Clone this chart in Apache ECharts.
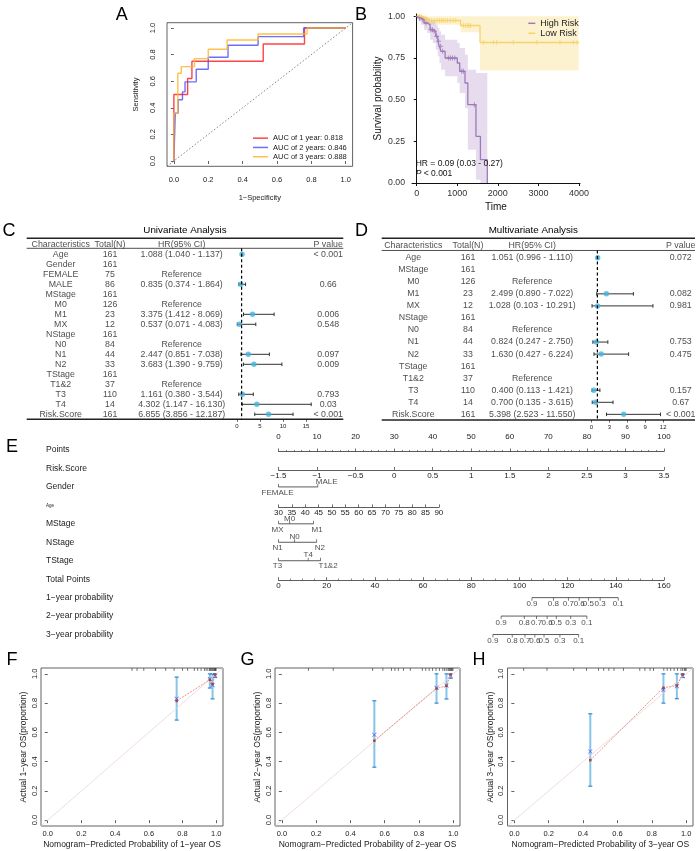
<!DOCTYPE html>
<html>
<head>
<meta charset="utf-8">
<script src="https://cdn.jsdelivr.net/npm/echarts@6.0.0/dist/echarts.min.js"></script>
<style>
html,body{margin:0;padding:0;background:#fff;}
#chart{width:700px;height:851px;}
</style>
</head>
<body>
<div id="chart"></div>
<script>
// ======================= DATA =======================
// Panel A – ROC curves (step points: false-positive rate, sensitivity)
const rocNames = ['AUC of 1 year: 0.818', 'AUC of 2 years: 0.846', 'AUC of 3 years: 0.888'];
const roc1FPR = [0, 0.08, 0.105, 0.52, 0.76, 1];
const roc1TPR = [0, 0.50, 0.62, 0.75, 0.88, 1];
const roc2FPR = [0, 0.008, 0.025, 0.05, 0.065, 0.13, 0.20, 0.315, 0.49, 0.755, 1];
const roc2TPR = [0, 0, 0.36, 0.46, 0.52, 0.595, 0.69, 0.78, 0.87, 0.935, 1];
const roc3FPR = [0, 0.023, 0.043, 0.12, 0.20, 0.31, 0.49, 0.775, 1];
const roc3TPR = [0, 0.36, 0.66, 0.71, 0.77, 0.84, 0.91, 0.955, 1];
const rocTicks = [0, 0.2, 0.4, 0.6, 0.8, 1];

// Panel B – Kaplan–Meier
const kmNames = ['High Risk', 'Low Risk'];
const highT     = [0, 40, 100, 180, 260, 330, 400, 470, 520, 560, 600, 700, 1000, 1060, 1190, 1260, 1460, 1570, 1740];
const highS     = [1, 0.99, 0.98, 0.96, 0.95, 0.92, 0.91, 0.88, 0.85, 0.82, 0.79, 0.75, 0.72, 0.67, 0.60, 0.47, 0.28, 0.14, 0];
const highUpper = [1, 1, 1, 0.995, 0.99, 0.975, 0.97, 0.95, 0.93, 0.91, 0.89, 0.86, 0.84, 0.81, 0.77, 0.68, 0.66, 0.66, 0];
const highLower = [1, 0.97, 0.95, 0.92, 0.90, 0.86, 0.84, 0.80, 0.76, 0.72, 0.68, 0.64, 0.60, 0.54, 0.45, 0.20, 0.02, 0, 0];
const highCensorT = [70, 150, 230, 350, 390, 430, 490, 540, 590, 640, 780, 830, 880, 940, 1110, 1150, 1420];
const lowT     = [0, 120, 250, 1080, 1560, 3990];
const lowS     = [1, 0.99, 0.975, 0.945, 0.843, 0.843];
const lowUpper = [1, 1, 1, 1, 1, 1];
const lowLower = [1, 0.97, 0.95, 0.905, 0.675, 0.675];
const lowCensorT = [30, 70, 110, 160, 210, 260, 310, 370, 430, 500, 560, 610, 650, 700, 760, 830, 900, 960,
                    1150, 1200, 1260, 1290, 1330, 1650, 1890, 1970, 2380, 2960, 3530, 3860, 3950];
const kmTimeTicks = [0, 1000, 2000, 3000, 4000];
const kmSurvTicks = [0, 0.25, 0.5, 0.75, 1];
const kmHR = 'HR = 0.09 (0.03 - 0.27)';
const kmP = '< 0.001';

// Panel C – univariate Cox
const tableHeader = ['Characteristics', 'Total(N)', 'HR(95% CI)', 'P value'];
const uniChar = ['Age','Gender','FEMALE','MALE','MStage','M0','M1','MX','NStage','N0','N1','N2','TStage','T1&2','T3','T4','Risk.Score'];
const uniN    = ['161','161','75','86','161','126','23','12','161','84','44','33','161','37','110','14','161'];
const uniHR   = [1.088,null,null,0.835,null,null,3.375,0.537,null,null,2.447,3.683,null,null,1.161,4.302,6.855];
const uniLo   = [1.040,null,null,0.374,null,null,1.412,0.071,null,null,0.851,1.390,null,null,0.380,1.147,3.856];
const uniHi   = [1.137,null,null,1.864,null,null,8.069,4.083,null,null,7.038,9.759,null,null,3.544,16.130,12.187];
const uniRef  = [0,0,1,0,0,1,0,0,0,1,0,0,0,1,0,0,0];
const uniP    = ['< 0.001','','','0.66','','','0.006','0.548','','','0.097','0.009','','','0.793','0.03','< 0.001'];
const uniTicks = [0, 5, 10, 15];

// Panel D – multivariate Cox
const mulChar = ['Age','MStage','M0','M1','MX','NStage','N0','N1','N2','TStage','T1&2','T3','T4','Risk.Score'];
const mulN    = ['161','161','126','23','12','161','84','44','33','161','37','110','14','161'];
const mulHR   = [1.051,null,null,2.499,1.028,null,null,0.824,1.630,null,null,0.400,0.700,5.398];
const mulLo   = [0.996,null,null,0.890,0.103,null,null,0.247,0.427,null,null,0.113,0.135,2.523];
const mulHi   = [1.110,null,null,7.022,10.291,null,null,2.750,6.224,null,null,1.421,3.615,11.550];
const mulRef  = [0,0,1,0,0,0,1,0,0,0,1,0,0,0];
const mulP    = ['0.072','','','0.082','0.981','','','0.753','0.475','','','0.157','0.67','< 0.001'];
const mulTicks = [0, 3, 6, 9, 12];

// Panel E – nomogram
const nomoRows = ['Points','Risk.Score','Gender','Age','MStage','NStage','TStage','Total Points',
                  '1\u2212year probability','2\u2212year probability','3\u2212year probability'];
const pointsRange = [0, 100];
const riskScoreRange = [-1.5, 3.5];
const ageRange = [30, 90];
const ageMaxPoints = 41.6;
const totalRange = [0, 160];
const genderLevels = ['FEMALE','MALE'];
const genderPoints = [0, 10.2];
const mStageLevels = ['MX','M0','M1'];
const mStagePoints = [0, 2.9, 9.1];
const nStageLevels = ['N1','N0','N2'];
const nStagePoints = [0, 4.2, 9.9];
const tStageLevels = ['T3','T4','T1&2'];
const tStagePoints = [0, 7.7, 10.9];
const probLabels = ['0.9','0.8','0.7','0.6','0.5','0.3','0.1'];
const prob1yTotal = [105.2, 114.1, 120.3, 124.8, 128.6, 133.5, 141.0];
const prob2yTotal = [92.4, 102.0, 107.1, 111.5, 115.3, 121.3, 128.0];
const prob3yTotal = [89.0, 97.0, 102.3, 106.4, 110.2, 116.8, 124.6];

// Panels F/G/H – calibration
const calTicks = [0, 0.2, 0.4, 0.6, 0.8, 1];
const cal1Pred = [0.765, 0.962, 0.978, 0.993];
const cal1Obs  = [0.830, 0.965, 0.922, 0.988];
const cal1App  = [0.815, 0.960, 0.930, 0.995];
const cal1Lo   = [0.684, 0.903, 0.829, 0.975];
const cal1Hi   = [0.978, 1.000, 0.998, 1.000];
const cal1Rug  = [0.50, 0.53, 0.57, 0.64, 0.70, 0.75, 0.80, 0.83, 0.87, 0.89, 0.91, 0.93, 0.94, 0.95, 0.96, 0.965, 0.97, 0.975, 0.98, 0.985, 0.99, 0.993, 0.996, 0.999];
const cal2Pred = [0.540, 0.903, 0.961, 0.985];
const cal2Obs  = [0.583, 0.905, 0.921, 0.985];
const cal2App  = [0.543, 0.900, 0.918, 0.995];
const cal2Lo   = [0.362, 0.800, 0.828, 0.970];
const cal2Hi   = [0.816, 1.000, 1.000, 1.000];
const cal2Rug  = [0.155, 0.30, 0.53, 0.59, 0.64, 0.66, 0.68, 0.71, 0.75, 0.82, 0.84, 0.86, 0.88, 0.90, 0.92, 0.94, 0.95, 0.96, 0.97, 0.975, 0.98, 0.985, 0.99, 0.995, 0.999];
const cal3Pred = [0.442, 0.868, 0.946, 0.980];
const cal3Obs  = [0.470, 0.890, 0.915, 0.985];
const cal3App  = [0.410, 0.905, 0.920, 0.995];
const cal3Lo   = [0.232, 0.800, 0.830, 0.975];
const cal3Hi   = [0.727, 1.000, 1.000, 1.000];
const cal3Rug  = [0.054, 0.19, 0.345, 0.42, 0.49, 0.52, 0.55, 0.58, 0.635, 0.73, 0.76, 0.79, 0.81, 0.87, 0.89, 0.91, 0.93, 0.95, 0.97, 0.98, 0.99, 0.995, 1.0];

// ======================= BUILD =======================
const FONT = '"Liberation Sans", Arial, Helvetica, sans-serif';
const INK = '#1a1a1a';
const grid = [], xAxis = [], yAxis = [], series = [], title = [], legend = [];
const G = o => (grid.push(Object.assign({outerBoundsMode: 'none', containLabel: false}, o)), grid.length - 1);
const X = o => (xAxis.push(Object.assign({nameMoveOverlap: false}, o)), xAxis.length - 1);
const Y = o => (yAxis.push(Object.assign({nameMoveOverlap: false}, o)), yAxis.length - 1);
const NOSYM = {symbolSize: 1, itemStyle: {color: 'rgba(0,0,0,0)'}};

function text(t, x, y, size, extra) {
  title.push(Object.assign({
    text: t, left: x, top: y, textAlign: 'center', textVerticalAlign: 'middle', padding: 0,
    textStyle: {fontSize: size, fontWeight: 'normal', color: '#000', fontFamily: FONT}
  }, extra || {}));
}
['A','B','C','D','E','F','G','H'].forEach((l, i) => {
  const pos = [[121.7,14.7],[361,15],[9,231],[361.5,231],[12,447],[12,660],[247.5,660],[479,660]][i];
  text(l, pos[0], pos[1], 18);
});
text('Univariate Analysis', 185, 230, 9.8);
text('Multivariate Analysis', 533.3, 230, 9.8);

// ---------- Panel A ----------
const gA = G({left: 167, top: 22.7, width: 185.6, height: 143.6, show: true, borderColor: '#3a3a3a', borderWidth: 0.8});
function boxAxis(gi, isY, ticks, fs, margin, name, nameGap, nameSize) {
  return {
    gridIndex: gi, type: 'value', min: -0.04, max: 1.04,
    axisLine: {show: false}, splitLine: {show: false},
    axisTick: {show: true, customValues: ticks, length: 3, lineStyle: {color: '#3a3a3a', width: 0.8}},
    axisLabel: {show: true, customValues: ticks, formatter: v => v.toFixed(1), fontSize: fs, margin: margin,
                rotate: isY ? 90 : 0, color: INK, fontFamily: FONT},
    name: name, nameLocation: 'middle', nameGap: nameGap,
    nameTextStyle: {fontSize: nameSize, color: INK, fontFamily: FONT}
  };
}
const xA = X(boxAxis(gA, false, rocTicks, 7.5, 9.5, '1\u2212Specificity', 27.5, 7.5));
const yA = Y(boxAxis(gA, true, rocTicks, 7.5, 10, 'Sensitivity', 27, 7.5));
series.push({type: 'line', xAxisIndex: xA, yAxisIndex: yA, silent: true, symbol: 'none',
  data: [[-0.04, -0.04], [1.04, 1.04]], lineStyle: {color: '#666', width: 0.8, type: [1.5, 2]}});
const rocColors = ['rgba(255,35,35,0.85)', 'rgba(70,70,255,0.78)', 'rgba(255,182,45,0.85)'];
[[roc1FPR, roc1TPR], [roc2FPR, roc2TPR], [roc3FPR, roc3TPR]].forEach(([f, t], k) => {
  series.push({type: 'line', name: rocNames[k], xAxisIndex: xA, yAxisIndex: yA, step: 'start', symbol: 'none',
    data: f.map((v, i) => [v, t[i]]), lineStyle: {color: rocColors[k], width: 1.4}, itemStyle: {color: rocColors[k]}});
});
legend.push({data: rocNames, orient: 'vertical', left: 253, top: 133.5, itemWidth: 15, itemHeight: 1.5, itemGap: 0,
  icon: 'rect', padding: 0, selectedMode: false,
  textStyle: {fontSize: 7.5, lineHeight: 9.3, color: INK, fontFamily: FONT}});

// ---------- Panel B ----------
const gB = G({left: 412, top: 14, width: 168, height: 169});
const xB = X({gridIndex: gB, type: 'value', min: -116, max: 4024,
  axisLine: {show: true, lineStyle: {color: '#111', width: 1}}, splitLine: {show: false},
  axisTick: {show: true, customValues: kmTimeTicks, length: 3, lineStyle: {color: '#111'}},
  axisLabel: {show: true, customValues: kmTimeTicks, formatter: v => String(v), fontSize: 9, margin: 6.5, color: '#333', fontFamily: FONT},
  name: 'Time', nameLocation: 'middle', nameGap: 19, nameTextStyle: {fontSize: 10, color: '#111', fontFamily: FONT}});
const yB = Y({gridIndex: gB, type: 'value', min: 0, max: 1.014,
  axisLine: {show: true, lineStyle: {color: '#111', width: 1}}, splitLine: {show: false},
  axisTick: {show: true, customValues: kmSurvTicks, length: 3, lineStyle: {color: '#111'}},
  axisLabel: {show: true, customValues: kmSurvTicks, formatter: v => v.toFixed(2), fontSize: 8.7, margin: 7, color: '#333', fontFamily: FONT},
  name: 'Survival probability', nameLocation: 'middle', nameGap: 28.5, nameTextStyle: {fontSize: 10, color: '#111', fontFamily: FONT}});
function kmBand(t, lo, up, color) {
  series.push({type: 'custom', xAxisIndex: xB, yAxisIndex: yB, silent: true, data: [[t[0], lo[0]]], encode: {x: 0, y: 1},
    renderItem: (p, api) => {
      const pts = [];
      for (let i = 0; i < t.length - 1; i++) { pts.push(api.coord([t[i], up[i]])); pts.push(api.coord([t[i + 1], up[i]])); }
      for (let i = t.length - 2; i >= 0; i--) { pts.push(api.coord([t[i + 1], lo[i]])); pts.push(api.coord([t[i], lo[i]])); }
      return {type: 'polygon', shape: {points: pts}, style: {fill: color}};
    }});
}
kmBand(lowT, lowLower, lowUpper, 'rgba(250,215,110,0.32)');
kmBand(highT, highLower, highUpper, 'rgba(160,120,190,0.26)');
function stepAt(ts, ss, t) { let v = ss[0]; for (let i = 0; i < ts.length; i++) if (ts[i] <= t) v = ss[i]; return v; }
const kmCols = ['#9E79BA', '#F6D46C'];
const PLUS = 'path://M4,0h2v4h4v2h-4v4h-2v-4h-4v-2h4z';
[[lowT, lowS, lowCensorT, 1], [highT, highS, highCensorT, 0]].forEach(([t, s, c, k]) => {
  series.push({type: 'line', name: kmNames[k], xAxisIndex: xB, yAxisIndex: yB, step: 'end', symbol: 'none',
    data: t.map((v, i) => [v, s[i]]), lineStyle: {color: kmCols[k], width: 1.3}, itemStyle: {color: kmCols[k]}});
  series.push({type: 'scatter', xAxisIndex: xB, yAxisIndex: yB, silent: true, symbol: PLUS, symbolSize: 5,
    data: c.map(v => [v, stepAt(t, s, v)]), itemStyle: {color: kmCols[k]}});
});
legend.push({data: kmNames, orient: 'vertical', left: 528.3, top: 18.3, itemWidth: 7, itemHeight: 1.5, itemGap: 0,
  icon: 'rect', padding: 0, selectedMode: false,
  textStyle: {fontSize: 9, lineHeight: 10, color: '#222', fontFamily: FONT}});
title.push({text: kmHR + '\n{i|P} ' + kmP, left: 415.7, top: 159.4, textAlign: 'left', textVerticalAlign: 'top', padding: 0,
  textStyle: {fontSize: 8.5, lineHeight: 9.3, fontWeight: 'normal', color: '#111', fontFamily: FONT,
    rich: {i: {fontStyle: 'italic', fontSize: 8.5, lineHeight: 9.3, color: '#111', fontFamily: FONT}}}});

// ---------- Panels C / D ----------
function forestTable(o) {
  const gi = G({left: o.left, top: o.top, width: o.width, height: (o.rowMax - o.rowMin) * o.rowH});
  const xc = X({gridIndex: gi, type: 'value', min: 0, max: o.width, show: false, position: 'top'});
  const xh = X({gridIndex: gi, type: 'value', position: 'bottom',
    min: (o.left - o.zeroX) / o.ppu, max: (o.left + o.width - o.zeroX) / o.ppu,
    axisLine: {show: false}, splitLine: {show: false},
    axisTick: {show: true, customValues: o.ticks, length: 2.5, lineStyle: {color: '#222', width: 0.7}},
    axisLabel: {show: true, customValues: o.ticks, fontSize: 6, margin: 4, color: INK, fontFamily: FONT}});
  const yi = Y({gridIndex: gi, type: 'value', inverse: true, min: o.rowMin, max: o.rowMax, show: false});
  const rule = (y, w) => series.push({type: 'line', xAxisIndex: xc, yAxisIndex: yi, silent: true, clip: false, symbol: 'none',
    data: [[0, y], [o.width, y]], lineStyle: {color: '#222', width: w}});
  rule(o.rowMin, 1.5); rule(-0.6, 0.8); rule(o.rowMax, 1.5);
  const hrTxt = o.hr.map((h, i) => o.ref[i] ? 'Reference' :
    (h == null ? '' : h.toFixed(3) + ' (' + o.lo[i].toFixed(3) + ' - ' + o.hi[i].toFixed(3) + ')'));
  const cols = [[o.cx[0], o.chars], [o.cx[1], o.n], [o.cx[2], hrTxt], [o.cx[3], o.p]];
  const lbl = {show: true, position: 'inside', formatter: p => p.name, fontSize: 8.8, color: INK, fontFamily: FONT, align: 'center'};
  cols.forEach(([x, arr], c) => {
    const data = [{value: [x, -1], name: tableHeader[c]}].concat(arr.map((t, i) => ({value: [x, i], name: String(t)})));
    series.push(Object.assign({type: 'scatter', xAxisIndex: xc, yAxisIndex: yi, silent: true, data: data, label: lbl}, NOSYM));
  });
  series.push({type: 'line', xAxisIndex: xh, yAxisIndex: yi, silent: true, clip: false, symbol: 'none',
    data: [[1, -0.6], [1, o.rowMax]], lineStyle: {color: '#000', width: 1.2, type: [3, 2.5]}});
  const ci = [], pts = [];
  o.hr.forEach((h, i) => { if (h != null) { ci.push([i, o.lo[i], o.hi[i]]); pts.push([h, i]); } });
  series.push({type: 'custom', xAxisIndex: xh, yAxisIndex: yi, silent: true, data: ci, encode: {x: [1, 2], y: 0},
    renderItem: (p, api) => {
      const y = api.value(0), a = api.coord([api.value(1), y]), b = api.coord([api.value(2), y]);
      const st = {stroke: '#333', lineWidth: 1};
      return {type: 'group', children: [
        {type: 'line', shape: {x1: a[0], y1: a[1], x2: b[0], y2: b[1]}, style: st},
        {type: 'line', shape: {x1: a[0], y1: a[1] - 1.8, x2: a[0], y2: a[1] + 1.8}, style: st},
        {type: 'line', shape: {x1: b[0], y1: b[1] - 1.8, x2: b[0], y2: b[1] + 1.8}, style: st}]};
    }});
  series.push({type: 'scatter', xAxisIndex: xh, yAxisIndex: yi, silent: true, data: pts, symbolSize: 5.5,
    itemStyle: {color: '#45B4DE'}});
}
forestTable({left: 26.7, width: 316.6, top: 238.3, rowH: 10, rowMin: -1.6, rowMax: 16.5, zeroX: 237, ppu: 4.6,
  ticks: uniTicks, cx: [34, 83.3, 155, 301.5], chars: uniChar, n: uniN, hr: uniHR, lo: uniLo, hi: uniHi, ref: uniRef, p: uniP});
forestTable({left: 381.7, width: 313.3, top: 238.3, rowH: 12.05, rowMin: -1.61, rowMax: 13.47, zeroX: 591.4, ppu: 5.98,
  ticks: mulTicks, cx: [31.6, 86.3, 150.5, 299], chars: mulChar, n: mulN, hr: mulHR, lo: mulLo, hi: mulHi, ref: mulRef, p: mulP});

// ---------- Panel E (nomogram) ----------
const E_LEFT = 278.5, E_W = 385.5, E_ROW = 18.45, E_TOP = 440.8;
const E_FS = 8;
const gE = G({left: E_LEFT, top: E_TOP, width: E_W, height: nomoRows.length * E_ROW});
const xEp = X({gridIndex: gE, type: 'value', min: pointsRange[0], max: pointsRange[1], show: false, position: 'top'});
const xEt = X({gridIndex: gE, type: 'value', min: totalRange[0], max: totalRange[1], show: false, position: 'bottom'});
const yE = Y({gridIndex: gE, type: 'category', inverse: true, data: nomoRows,
  axisLine: {show: false}, axisTick: {show: false}, splitLine: {show: false},
  axisLabel: {interval: 0, align: 'left', margin: E_LEFT - 46,
    formatter: v => v === 'Age' ? '{s|' + v + '}' : '{n|' + v + '}',
    rich: {n: {fontSize: 8.5, color: INK, fontFamily: FONT}, s: {fontSize: 4.5, color: INK, fontFamily: FONT}}}});
function nomoAxis(row, dy, range, interval, widthFrac, labelTop, minorSplit, fmt) {
  const lineY = E_TOP + (nomoRows.indexOf(row) + 0.5) * E_ROW + dy;
  const gi = G({left: E_LEFT, top: labelTop ? lineY : lineY - 1, width: E_W * widthFrac, height: 1});
  X({gridIndex: gi, type: 'value', position: labelTop ? 'top' : 'bottom', min: range[0], max: range[1], interval: interval,
    axisLine: {show: true, lineStyle: {color: '#333', width: 0.8}}, splitLine: {show: false},
    axisTick: {show: true, inside: !labelTop, length: 3, lineStyle: {color: '#333', width: 0.7}},
    minorTick: {show: minorSplit > 0, splitNumber: minorSplit || 5, length: 1.6, lineStyle: {color: '#333', width: 0.6}},
    axisLabel: {show: true, fontSize: E_FS, color: INK, fontFamily: FONT, margin: labelTop ? 9.5 : 1.6,
      formatter: fmt || (v => String(v))}});
  Y({gridIndex: gi, type: 'value', min: 0, max: 1, show: false});
}
nomoAxis('Points', 0.5, pointsRange, 10, 1, true, 5);
nomoAxis('Risk.Score', 1.5, riskScoreRange, 0.5, 1, false, 0, v => String(v).replace('-', '\u2212'));
nomoAxis('Age', 2, ageRange, 5, ageMaxPoints / 100, false, 0);
nomoAxis('Total Points', 1, totalRange, 20, 1, false, 4);
function nomoScale(row, labels, vals, xi, ticksUp, labelMode) {
  const r = nomoRows.indexOf(row);
  series.push({type: 'line', xAxisIndex: xi, yAxisIndex: yE, silent: true, clip: false, symbol: 'none',
    data: [[vals[0], r], [vals[vals.length - 1], r]], lineStyle: {color: '#333', width: 0.8}});
  series.push({type: 'scatter', xAxisIndex: xi, yAxisIndex: yE, silent: true, symbol: 'rect', symbolSize: [0.8, 3],
    symbolOffset: [0, ticksUp ? '-50%' : '50%'], data: vals.map(v => [v, r]), itemStyle: {color: '#333'}});
  series.push(Object.assign({type: 'scatter', xAxisIndex: xi, yAxisIndex: yE, silent: true,
    data: labels.map((lv, i) => {
      let align = 'center', dx = 0, dy = 6.5;
      if (labelMode === 'factor') {
        const last = i === labels.length - 1;
        align = last ? 'left' : 'center'; dx = last ? -2 : (i === 0 ? -1 : 0); dy = i % 2 ? -5.5 : 5.5;
      }
      return {value: [vals[i], r], name: lv, label: {align: align, offset: [dx, dy]}};
    }),
    label: {show: true, position: 'inside', formatter: p => p.name, fontSize: E_FS, color: INK, fontFamily: FONT}}, NOSYM));
}
nomoScale('Gender', genderLevels, genderPoints, xEp, true, 'factor');
nomoScale('MStage', mStageLevels, mStagePoints, xEp, true, 'factor');
nomoScale('NStage', nStageLevels, nStagePoints, xEp, true, 'factor');
nomoScale('TStage', tStageLevels, tStagePoints, xEp, true, 'factor');
nomoScale(nomoRows[8], probLabels, prob1yTotal, xEt, false, 'prob');
nomoScale(nomoRows[9], probLabels, prob2yTotal, xEt, false, 'prob');
nomoScale(nomoRows[10], probLabels, prob3yTotal, xEt, false, 'prob');

// ---------- Panels F / G / H ----------
const XMARK = 'path://M1,0L5,4L9,0L10,1L6,5L10,9L9,10L5,6L1,10L0,9L4,5L0,1Z';
function calPanel(o) {
  const gi = G({left: o.left, top: 668, width: o.width, height: 158, show: true, borderColor: '#3a3a3a', borderWidth: 0.8});
  const xi = X(boxAxis(gi, false, calTicks, 7.5, 3.5, 'Nomogram\u2212Predicted Probability of ' + o.yr + '\u2212year OS', 14, 8.5));
  const yi = Y(boxAxis(gi, true, calTicks, 7.5, 2.5, 'Actual ' + o.yr + '\u2212year OS(proportion)', 12.5, 8.5));
  series.push({type: 'line', xAxisIndex: xi, yAxisIndex: yi, silent: true, symbol: 'none',
    data: [[-0.04, -0.04], [1.04, 1.04]], lineStyle: {color: '#ead6d6', width: 0.8}});
  series.push({type: 'custom', xAxisIndex: xi, yAxisIndex: yi, silent: true, data: o.rug.map(v => [v, 1.04]), encode: {x: 0, y: 1},
    renderItem: (p, api) => { const c = api.coord([api.value(0), api.value(1)]);
      return {type: 'line', shape: {x1: c[0], y1: c[1], x2: c[0], y2: c[1] + 3}, style: {stroke: '#222', lineWidth: 0.6}}; }});
  series.push({type: 'line', xAxisIndex: xi, yAxisIndex: yi, silent: true, symbol: 'rect', symbolSize: 2.5, showSymbol: true,
    data: o.pred.map((v, i) => [v, o.app[i]]), lineStyle: {color: '#e08a7a', width: 0.9, type: [2, 1.2]},
    itemStyle: {color: '#a8453a'}});
  series.push({type: 'custom', xAxisIndex: xi, yAxisIndex: yi, silent: true,
    data: o.pred.map((v, i) => [v, o.lo[i], o.hi[i]]), encode: {x: 0, y: [1, 2]},
    renderItem: (p, api) => {
      const x = api.value(0), a = api.coord([x, api.value(1)]), b = api.coord([x, api.value(2)]);
      return {type: 'group', children: [
        {type: 'line', shape: {x1: a[0], y1: a[1], x2: b[0], y2: b[1]}, style: {stroke: '#86c4ea', lineWidth: 2}},
        {type: 'line', shape: {x1: a[0] - 2, y1: a[1], x2: a[0] + 2, y2: a[1]}, style: {stroke: '#2b8ad0', lineWidth: 1.2}},
        {type: 'line', shape: {x1: b[0] - 2, y1: b[1], x2: b[0] + 2, y2: b[1]}, style: {stroke: '#2b8ad0', lineWidth: 1.2}}]};
    }});
  series.push({type: 'scatter', xAxisIndex: xi, yAxisIndex: yi, silent: true, symbol: XMARK, symbolSize: 4.5,
    data: o.pred.map((v, i) => [v, o.obs[i]]), itemStyle: {color: '#3a3aff'}});
}
calPanel({left: 41, width: 182, yr: 1, pred: cal1Pred, obs: cal1Obs, app: cal1App, lo: cal1Lo, hi: cal1Hi, rug: cal1Rug});
calPanel({left: 275, width: 185, yr: 2, pred: cal2Pred, obs: cal2Obs, app: cal2App, lo: cal2Lo, hi: cal2Hi, rug: cal2Rug});
calPanel({left: 507.5, width: 185.5, yr: 3, pred: cal3Pred, obs: cal3Obs, app: cal3App, lo: cal3Lo, hi: cal3Hi, rug: cal3Rug});

const chart = echarts.init(document.getElementById('chart'), null, {renderer: 'canvas'});
chart.setOption({animation: false, backgroundColor: '#fff', textStyle: {fontFamily: FONT},
  title: title, legend: legend, grid: grid, xAxis: xAxis, yAxis: yAxis, series: series});
</script>
</body>
</html>
